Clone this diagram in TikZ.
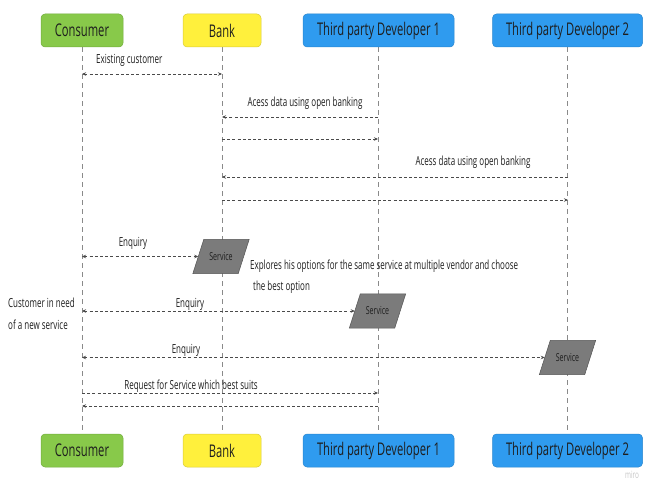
\documentclass[tikz,border=0pt]{standalone}
\usepackage{fontspec}
\setmainfont{Open Sans}[FakeStretch=0.64]
\usetikzlibrary{arrows.meta,calc}
\definecolor{cgreen}{HTML}{88C94A}
\definecolor{cgreenb}{HTML}{72AC3C}
\definecolor{cyellow}{HTML}{FFF03C}
\definecolor{cyellowb}{HTML}{D8CB3A}
\definecolor{cblue}{HTML}{2F9BEF}
\definecolor{cblueb}{HTML}{2A86CE}
\definecolor{txt}{HTML}{1E1E1E}
\definecolor{lifec}{HTML}{8A8A8A}
\definecolor{msgc}{HTML}{4A4A4A}
\definecolor{svcf}{HTML}{7B7B7B}
\definecolor{svcb}{HTML}{555555}
\pgfdeclarelayer{back}\pgfdeclarelayer{mid}
\pgfsetlayers{back,mid,main}
\begin{document}
\begin{tikzpicture}[x=1pt,y=-1pt,
  actor/.style={rounded corners=4pt, minimum height=33pt, inner sep=0pt, text=txt, font=\fontsize{17.5}{17.5}\selectfont, line width=0.5pt},
  life/.style={draw=lifec, line width=0.9pt, dash pattern=on 5pt off 4pt},
  msg/.style={draw=msgc, line width=0.8pt, dash pattern=on 3pt off 2.2pt, >={Stealth[length=4pt,width=3.5pt]}},
  lbl/.style={text=txt, font=\fontsize{12.5}{12.5}\selectfont, inner sep=0pt},
  svc/.style={minimum width=45pt, minimum height=34pt, inner sep=0pt, text=txt, font=\fontsize{11}{11}\selectfont},
  svcshape/.style={fill=svcf, draw=svcb, line width=0.5pt}
]
\useasboundingbox (0,0) rectangle (647,481);
% actors top
\node[actor, fill=cgreen, draw=cgreenb, minimum width=82pt] (cT) at (82,30.5) {Consumer};
\node[actor, fill=cyellow, draw=cyellowb, minimum width=78pt] (bT) at (222,30.5) {Bank};
\node[actor, fill=cblue, draw=cblueb, minimum width=151pt] (t1T) at (378.5,30.5) {Third party Developer 1};
\node[actor, fill=cblue, draw=cblueb, minimum width=150pt] (t2T) at (567.5,30.5) {Third party Developer 2};
% actors bottom
\node[actor, fill=cgreen, draw=cgreenb, minimum width=82pt] (cB) at (82,450.5) {Consumer};
\node[actor, fill=cyellow, draw=cyellowb, minimum width=78pt] (bB) at (222,450.5) {Bank};
\node[actor, fill=cblue, draw=cblueb, minimum width=151pt] (t1B) at (378.5,450.5) {Third party Developer 1};
\node[actor, fill=cblue, draw=cblueb, minimum width=150pt] (t2B) at (567.5,450.5) {Third party Developer 2};
% lifelines
\begin{pgfonlayer}{back}
\draw[life] (cT.south) -- (cB.north);
\draw[life] (bT.south) -- (bB.north);
\draw[life] (t1T.south) -- (t1B.north);
\draw[life] (t2T.south) -- (t2B.north);
\end{pgfonlayer}
% services
\node[svc] (s1) at (221,256.5) {Service};
\node[svc] (s2) at (377.5,311) {Service};
\node[svc] (s3) at (567.5,357.5) {Service};
\begin{pgfonlayer}{mid}
\foreach \s in {s1,s2,s3}
  \filldraw[svcshape] ($(\s.north west)+(5.5,0)$) -- ($(\s.north east)+(5.5,0)$) -- ($(\s.south east)+(-5.5,0)$) -- ($(\s.south west)+(-5.5,0)$) -- cycle;
\end{pgfonlayer}
% lifeline coordinates
\coordinate (c1) at (82,74);   \coordinate (b1) at (222,74);
\coordinate (b2) at (222,117); \coordinate (t12) at (378,117);
\coordinate (b3) at (222,139); \coordinate (t13) at (378,139);
\coordinate (b4) at (222,177); \coordinate (t24) at (568,177);
\coordinate (b5) at (222,200); \coordinate (t25) at (568,200);
\coordinate (c6) at (82,256.5);
\coordinate (c7) at (82,311);
\coordinate (c8) at (82,357.5);
\coordinate (c9) at (82,393);  \coordinate (t19) at (378,393);
\coordinate (c10) at (82,406); \coordinate (t110) at (378,406);
% messages
\draw[msg,<->] (c1) -- (b1);
\draw[msg,->] (t12) -- (b2);
\draw[msg,->] (b3) -- (t13);
\draw[msg,->] (t24) -- (b4);
\draw[msg,->] (b5) -- (t25);
\draw[msg,<->] (c6) -- (s1.west);
\draw[msg,<->] (c7) -- (s2.west);
\draw[msg,<->] (c8) -- (s3.west);
\draw[msg,->] (c9) -- (t19);
\draw[msg,->] (t110) -- (c10);
% labels
\node[lbl, anchor=west] (l1) at (96,60) {Existing customer};
\node[lbl] (l2) at (305,103) {Acess data using open banking};
\node[lbl] (l3) at (473,162) {Acess data using open banking};
\node[lbl] (l4) at (133,243) {Enquiry};
\node[lbl, anchor=north west, align=left, font=\fontsize{12.5}{21}\selectfont] (l5) at (250,260) {Explores his options for the same service at multiple vendor and choose\\\hspace{3pt}the best option};
\node[lbl, anchor=north west, align=left, font=\fontsize{12.5}{22}\selectfont] (l6) at (8,297.5) {Customer in need\\of a new service};
\node[lbl] (l7) at (190,304) {Enquiry};
\node[lbl] (l8) at (186,350) {Enquiry};
\node[lbl] (l9) at (191,386) {Request for Service which best suits};
\node[text=gray!45, font=\fontsize{10}{10}\selectfont, inner sep=0pt] (miro) at (632,475) {miro};
\end{tikzpicture}
\end{document}
